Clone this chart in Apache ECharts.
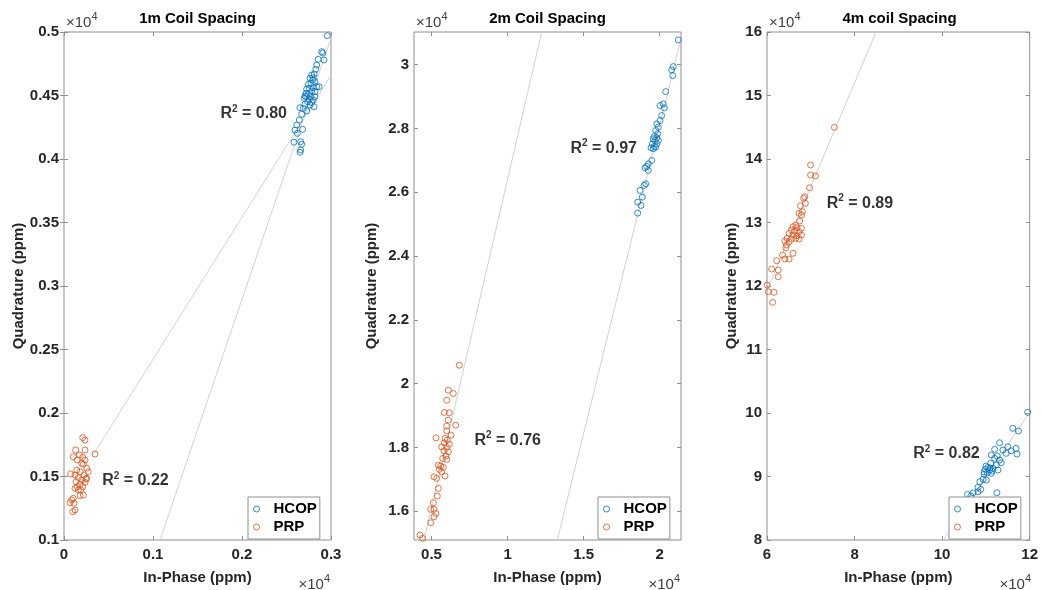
<!DOCTYPE html>
<html><head><meta charset="utf-8">
<script src="https://cdn.jsdelivr.net/npm/echarts@6/dist/echarts.min.js"></script>
<style>html,body{margin:0;padding:0;background:#fff}#c{width:1041px;height:590px}</style>
</head><body><div id="c"></div><script>
// ---------- data (ppm) ----------
const hcop1 = [[2958,4971],[2896,4845],[2907,4835],[2857,4785],[2921,4780],[2839,4740],[2828,4706],[2812,4669],[2783,4661],[2801,4640],[2764,4635],[2794,4622],[2820,4609],[2775,4596],[2745,4588],[2839,4569],[2801,4561],[2865,4569],[2756,4557],[2727,4551],[2783,4535],[2820,4530],[2719,4517],[2745,4509],[2708,4496],[2727,4491],[2772,4491],[2820,4491],[2700,4478],[2756,4472],[2801,4465],[2738,4451],[2783,4446],[2708,4431],[2764,4425],[2809,4412],[2652,4404],[2689,4399],[2727,4378],[2671,4352],[2644,4307],[2615,4268],[2595,4228],[2682,4234],[2621,4202],[2584,4132],[2659,4136],[2671,4116],[2659,4071],[2652,4053]];
const prp1 = [[210,1806],[236,1787],[131,1709],[236,1709],[348,1677],[172,1669],[104,1656],[210,1651],[236,1630],[149,1630],[199,1604],[217,1596],[143,1551],[255,1565],[273,1538],[180,1538],[75,1520],[124,1512],[225,1512],[161,1491],[255,1486],[199,1472],[135,1459],[236,1454],[180,1439],[149,1420],[210,1420],[124,1407],[161,1394],[188,1394],[217,1354],[180,1349],[104,1328],[87,1315],[112,1289],[98,1223],[124,1236],[67,1294],[247,1480]];
const hcop2 = [[21223,30772],[20894,29936],[20789,29833],[20854,29654],[20394,29153],[20236,28768],[20020,28715],[20303,28643],[20131,28402],[20020,28246],[19803,28142],[19908,28036],[19737,27933],[19868,27829],[19645,27745],[19803,27704],[19579,27673],[19691,27620],[19908,27620],[19514,27516],[19803,27516],[19645,27432],[19428,27391],[19579,27360],[19737,27410],[19474,26994],[19251,26890],[19145,26806],[19034,26765],[19251,26681],[19080,26264],[18988,26211],[18705,26055],[18856,25845],[18554,25688],[18771,25585],[18554,25344]];
const prp2 = [[6828,20577],[6105,19795],[6433,19691],[6000,19482],[5842,19097],[6170,19084],[6105,18856],[6591,18699],[6000,18668],[6000,18521],[6282,18386],[5296,18302],[5888,18283],[6039,18230],[5842,18145],[6170,18104],[5671,18020],[6000,18001],[5822,17895],[6105,17864],[5953,17729],[5736,17657],[6000,17626],[5447,17447],[5605,17416],[5776,17375],[5513,17313],[5671,17237],[5888,17103],[5165,17081],[5342,17031],[5447,16718],[5381,16477],[5119,16267],[4948,16060],[5165,16060],[5296,15935],[5165,15829],[4948,15641],[4244,15256],[4422,15153]];
const hcop3 = [[119543,100103],[116147,97583],[117438,97158],[113136,95315],[115015,94685],[116895,94433],[112005,94275],[113883,94165],[115763,94055],[117121,93535],[111235,93378],[112594,93220],[114632,93645],[112005,92860],[113136,92590],[113499,92165],[111099,92070],[112367,91803],[110487,91441],[111619,91283],[109876,91125],[110873,91015],[112752,91015],[110329,90590],[111235,90495],[109582,90338],[109355,89550],[108608,89172],[110102,89440],[108223,88290],[107091,87440],[108835,87975],[108223,87597],[112525,87440],[105801,87188],[106570,86920],[110035,91645],[110940,91330],[111395,90855],[109580,90700]];
const prp3 = [[75395,144990],[69962,139052],[69962,137478],[71094,137320],[69735,135477],[68603,134060],[68377,133808],[68762,133020],[67630,132642],[68083,131697],[67313,131445],[67856,131178],[67471,130233],[66566,129603],[65954,129335],[66860,129178],[67856,129083],[65592,128815],[66339,128658],[67313,128548],[65049,128296],[65954,128028],[66860,127918],[67856,128028],[64596,127508],[65592,127398],[66566,127508],[67313,127398],[64075,127083],[65049,126973],[64460,126453],[64302,126028],[65954,125146],[63554,124878],[64075,124248],[65049,124248],[62196,123980],[61064,122673],[62558,122515],[62558,121460],[60050,120153],[60294,119098],[61585,119003],[61290,117428]];
// regression lines (end points)
const fit1 = [[[330,1673],[3000,4661]], [[1079,1000],[3000,4953]]];
const fit2 = [[[4507,15100],[12244,31020]], [[13270,15100],[21400,30812]]];
const fit3 = [[[60000,119300],[84900,160000]], [[100300,80000],[120000,100150]]];
// R² annotations [x, y, value]
const ann1 = [[1753,4362,'0.80'],[424,1472,'0.22']];
const ann2 = [[14104,27410,'0.97'],[7794,18252,'0.76']];
const ann3 = [[73516,133115,'0.89'],[93281,93740,'0.82']];
// titles and ticks
const titles = ['1m Coil Spacing','2m Coil Spacing','4m coil Spacing'];
const xTicks = [[0,1000,2000,3000],[5000,10000,15000,20000],[60000,80000,100000,120000]];
const yTicks = [[1000,1500,2000,2500,3000,3500,4000,4500,5000],[16000,18000,20000,22000,24000,26000,28000,30000],[80000,90000,100000,110000,120000,130000,140000,150000,160000]];
const xRange = [[0,3000],[3850,21400],[60000,120000]];
const yRange = [[1000,5000],[15100,31020],[80000,160000]];

const FONT = '"Liberation Sans", Arial, Helvetica, sans-serif';
const BLUE = '#0072BD', ORANGE = '#D95319', AX = '#8f8f8f', TXT = '#262626';
const grids = [{left:64,width:267},{left:414,width:267},{left:767,width:265}];
const yNameGap = [37,35,28];
const fmt = v => String(Number((v/1e4).toFixed(4)));

const option = {animation:false, grid:[], xAxis:[], yAxis:[], series:[], legend:[], graphic:[]};
const hc = [hcop1,hcop2,hcop3], pr = [prp1,prp2,prp3], fits=[fit1,fit2,fit3], anns=[ann1,ann2,ann3];

for (let i=0;i<3;i++){
  const g = grids[i];
  option.grid.push({left:g.left, width:g.width, top:32, height:508, show:true, borderColor:AX, borderWidth:1, backgroundColor:'transparent'});
  const tickStyle = {show:true, inside:true, length:4, lineStyle:{color:AX}};
  option.xAxis.push({type:'value', gridIndex:i, min:xRange[i][0], max:xRange[i][1], position:'bottom',
    axisLine:{show:false}, splitLine:{show:false},
    axisTick:Object.assign({customValues:xTicks[i]},tickStyle),
    axisLabel:{customValues:xTicks[i], formatter:fmt, margin:7, color:TXT, fontSize:15, fontWeight:'bold', fontFamily:FONT},
    name:'In-Phase (ppm)', nameLocation:'middle', nameGap:30,
    nameTextStyle:{color:TXT, fontSize:15, fontWeight:'bold', fontFamily:FONT}});
  option.yAxis.push({type:'value', gridIndex:i, min:yRange[i][0], max:yRange[i][1], position:'left',
    axisLine:{show:false}, splitLine:{show:false},
    axisTick:Object.assign({customValues:yTicks[i]},tickStyle),
    axisLabel:{customValues:yTicks[i], formatter:fmt, margin:5, color:TXT, fontSize:15, fontWeight:'bold', fontFamily:FONT},
    name:'Quadrature (ppm)', nameLocation:'middle', nameGap:yNameGap[i], nameRotate:90,
    nameTextStyle:{color:TXT, fontSize:15, fontWeight:'bold', fontFamily:FONT}});
}
for (let i=0;i<3;i++){
  const tickStyle = {show:true, inside:true, length:4, lineStyle:{color:AX}};
  option.xAxis.push({type:'value', gridIndex:i, min:xRange[i][0], max:xRange[i][1], position:'top',
    axisLine:{show:false}, splitLine:{show:false}, axisLabel:{show:false},
    axisTick:Object.assign({customValues:xTicks[i]},tickStyle)});
  option.yAxis.push({type:'value', gridIndex:i, min:yRange[i][0], max:yRange[i][1], position:'right',
    axisLine:{show:false}, splitLine:{show:false}, axisLabel:{show:false},
    axisTick:Object.assign({customValues:yTicks[i]},tickStyle)});
}
for (let i=0;i<3;i++){
  fits[i].forEach(f=>{
    option.series.push({type:'line', xAxisIndex:i, yAxisIndex:i, data:f, symbol:'none', silent:true, z:1,
      lineStyle:{color:'#d2d2d2', width:1}});
  });
  option.series.push({type:'scatter', name:'HCOP', xAxisIndex:i, yAxisIndex:i, data:hc[i], symbol:'circle', symbolSize:6, z:2,
    itemStyle:{color:'rgba(0,0,0,0)', borderColor:BLUE, borderWidth:1}});
  option.series.push({type:'scatter', name:'PRP', xAxisIndex:i, yAxisIndex:i, data:pr[i], symbol:'circle', symbolSize:6, z:2,
    itemStyle:{color:'rgba(0,0,0,0)', borderColor:ORANGE, borderWidth:1}});
  option.series.push({type:'scatter', xAxisIndex:i, yAxisIndex:i, silent:true, z:5, symbolSize:1,
    itemStyle:{color:'rgba(0,0,0,0)'},
    data:anns[i].map(a=>({value:[a[0],a[1]], label:{formatter:'{r|R}{s|2}{r| = '+a[2]+'}'}})),
    label:{show:true, position:'right', distance:0,
      rich:{r:{fontSize:16, fontWeight:'bold', color:'#000', fontFamily:FONT, lineHeight:18, verticalAlign:'bottom'},
            s:{fontSize:10, fontWeight:'bold', color:'#000', fontFamily:FONT, lineHeight:18, verticalAlign:'top'}}}});
  const g = grids[i];
  option.legend.push({show:true, orient:'vertical', left:g.left+g.width-83, top:497, icon:'circle', itemWidth:24, itemHeight:6, itemGap:2,
    padding:[4,3,4,5], borderColor:AX, borderWidth:1, backgroundColor:'#fff', selectedMode:false,
    textStyle:{color:'#000', fontSize:15, fontWeight:'bold', fontFamily:FONT, lineHeight:16},
    data:[{name:'HCOP', itemStyle:{color:'rgba(0,0,0,0)', borderColor:BLUE, borderWidth:1}},
          {name:'PRP', itemStyle:{color:'rgba(0,0,0,0)', borderColor:ORANGE, borderWidth:1}}]});
  option.graphic.push({type:'text', x:g.left+g.width/2, y:19, style:{text:titles[i], align:'center', verticalAlign:'middle',
    fill:'#000', font:'bold 15px '+FONT}});
  const richExp = {a:{fontSize:15, fontFamily:FONT, fill:'#404040', color:'#404040', lineHeight:19, verticalAlign:'bottom'},
                   b:{fontSize:11, fontFamily:FONT, fill:'#404040', color:'#404040', lineHeight:19, verticalAlign:'top'}};
  option.graphic.push({type:'text', x:g.left+2, y:30, style:{text:'{a|×10}{b|4}', align:'left', verticalAlign:'bottom', rich:richExp}});
  option.graphic.push({type:'text', x:g.left+g.width-1, y:592, style:{text:'{a|×10}{b|4}', align:'right', verticalAlign:'bottom', rich:richExp}});
}
const chart = echarts.init(document.getElementById('c'), null, {renderer:'canvas'});
chart.setOption(option);
</script></body></html>
